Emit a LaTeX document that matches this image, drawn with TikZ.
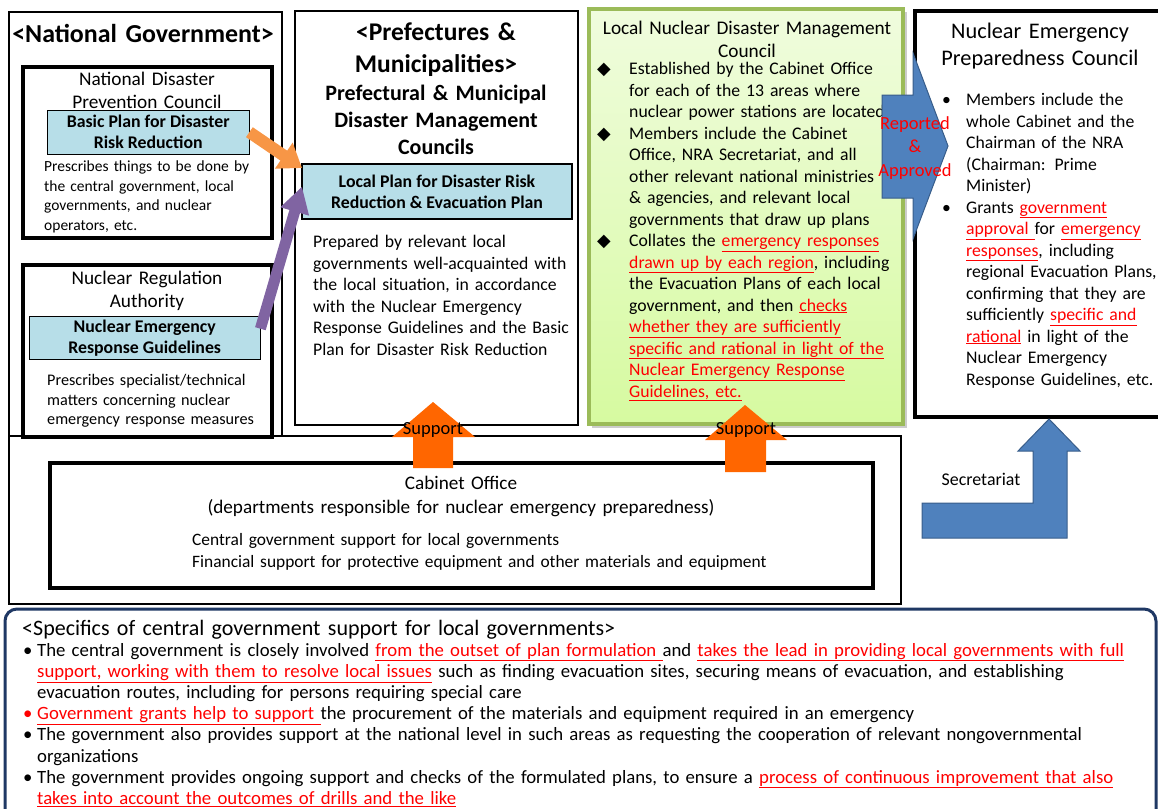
\documentclass[tikz,border=0pt]{standalone}
\usepackage{fontspec}
\setmainfont{Carlito}
\newfontfamily\symfont{DejaVu Sans}
\usetikzlibrary{arrows.meta}

\definecolor{planblue}{RGB}{183,222,232}
\definecolor{arrowblue}{RGB}{79,129,189}
\definecolor{arrowedge}{RGB}{56,93,138}
\definecolor{supportorange}{RGB}{255,102,0}
\definecolor{lightorange}{RGB}{247,150,70}
\definecolor{purplearrow}{RGB}{128,100,162}
\definecolor{councilgreen}{RGB}{155,187,89}
\definecolor{greentop}{RGB}{240,252,222}
\definecolor{greenbottom}{RGB}{214,250,160}
\definecolor{navy}{RGB}{31,56,100}

\newcommand{\redu}[1]{{\color{red}\underline{#1}}}
\newcommand{\dia}{\leavevmode\llap{\makebox[32pt][l]{\symfont ◆}}}
\newcommand{\bul}{\leavevmode\llap{\makebox[24pt][l]{•}}}
\newcommand{\sbul}{\leavevmode\llap{\makebox[14pt][l]{•}}}

\begin{document}
\begin{tikzpicture}[x=1pt,y=-1pt,
  txt/.style={inner sep=0pt,anchor=base west,align=left},
  ctr/.style={inner sep=0pt,anchor=base,align=center},
  fbody/.style={font=\fontsize{17.7}{21.5}\selectfont},
  fsmall/.style={font=\fontsize{16.2}{19.7}\selectfont},
  fmid/.style={font=\fontsize{19.3}{23}\selectfont},
  fbottom/.style={font=\fontsize{18.75}{21.2}\selectfont},
  planbox/.style={draw,fill=planblue,align=center,inner sep=0pt,anchor=north west,
    font=\bfseries\fontsize{17.8}{21}\selectfont},
  blockblue/.style={fill=arrowblue,draw=arrowedge,line width=1pt},
  label/.style={ctr,font=\fontsize{18.5}{23.5}\selectfont}]
\useasboundingbox (0,0) rectangle (1158,808);
\clip (0,0) rectangle (1158,808);

% national government
\draw[line width=1.2pt] (9,12) rectangle (282,436);
\node[ctr,text width=270pt,font=\bfseries\fontsize{25.9}{28}\selectfont] (natgov) at (143,43) {<National Government>};
\draw[line width=4pt] (23,67) rectangle (272,238);
\node[ctr,fmid,text width=240pt] (ndpc) at (147,85) {National Disaster\\Prevention Council};
\node[planbox,minimum width=202pt,minimum height=44pt] (basic) at (47,110) {Basic Plan for Disaster\\Risk Reduction};
\node[txt,font=\fontsize{15.5}{19.7}\selectfont,text width=240pt] (ndpctext) at (44,171.5) {Prescribes things to be done by\\the central government, local\\governments, and nuclear\\operators, etc.};
\draw[line width=4pt] (23,265) rectangle (272,437);
\node[ctr,fmid,text width=240pt] (nra) at (147,284) {Nuclear Regulation\\Authority};
\node[planbox,minimum width=231pt,minimum height=43pt] (nerg) at (29,316) {Nuclear Emergency\\Response Guidelines};
\node[txt,fsmall,text width=240pt] (nratext) at (47,385.5) {Prescribes specialist/technical\\matters concerning nuclear\\emergency response measures};

% prefectures
\draw[line width=1.5pt] (295,11) rectangle (578,425);
\node[ctr,text width=280pt,font=\bfseries\fontsize{25.5}{32}\selectfont] (pref) at (436,41) {<Prefectures \&\\Municipalities>};
\node[ctr,text width=280pt,font=\bfseries\fontsize{22}{27}\selectfont] (prefcouncil) at (436,100) {Prefectural \& Municipal\\Disaster Management\\Councils};
\node[planbox,line width=2pt,minimum width=270pt,minimum height=55pt] (local) at (301,163) {Local Plan for Disaster Risk\\Reduction \& Evacuation Plan};
\node[txt,fbody,text width=300pt] (localtext) at (313,247.5) {Prepared by relevant local\\governments well-acquainted with\\the local situation, in accordance\\with the Nuclear Emergency\\Response Guidelines and the Basic\\Plan for Disaster Risk Reduction};

% local council
\fill[black!20] (592,12) rectangle (907,428);
\shade[top color=greentop,bottom color=greenbottom] (589,9) rectangle (903,424);
\draw[councilgreen,line width=4pt] (589,9) rectangle (903,424);
\node[ctr,fmid,text width=300pt] (localcouncil) at (747,35) {Local Nuclear Disaster Management\\Council};
\node[txt,fbody,text width=400pt] (councilitems) at (629,74.5) {\dia Established by the Cabinet Office\\for each of the 13 areas where\\nuclear power stations are located\\\dia Members include the Cabinet\\Office, NRA Secretariat, and all\\other relevant national ministries\\\& agencies, and relevant local\\governments that draw up plans\\\dia Collates the \redu{emergency responses}\\\redu{drawn up by each region}, including\\the Evacuation Plans of each local\\government, and then \redu{checks}\\\redu{whether they are sufficiently}\\\redu{specific and rational in light of the}\\\redu{Nuclear Emergency Response}\\\redu{Guidelines, etc.}};

% preparedness council
\draw[line width=4pt] (915,11) rectangle (1175,417);
\node[ctr,text width=240pt,font=\fontsize{22.3}{27}\selectfont] (nepc) at (1040,39) {Nuclear Emergency\\Preparedness Council};
\node[txt,fbody,text width=300pt] (nepcitems) at (966,105.5) {\bul Members include the\\whole Cabinet and the\\Chairman of the NRA\\(Chairman: Prime\\Minister)\\\bul Grants \redu{government}\\\redu{approval }for \redu{emergency}\\\redu{responses}, including\\regional Evacuation Plans,\\confirming that they are\\sufficiently \redu{specific and}\\\redu{rational} in light of the\\Nuclear Emergency\\Response Guidelines, etc.};

% cabinet office
\draw[line width=1.5pt] (9,436) rectangle (901,604);
\draw[line width=3.5pt] (50,463) rectangle (873,588);
\node[ctr,font=\fontsize{19.2}{24}\selectfont,text width=700pt] (cabinet) at (461,489) {Cabinet Office\\(departments responsible for nuclear emergency preparedness)};
\node[txt,font=\fontsize{17.4}{22}\selectfont,text width=650pt] (cabsupport) at (192,545) {Central government support for local governments\\Financial support for protective equipment and other materials and equipment};

% arrows
\draw[lightorange,line width=12pt,-{Triangle[width=30pt,length=22pt]}] (basic.east) -- ([xshift=1pt,yshift=-5pt]local.north west);
\draw[purplearrow,line width=11pt,-{Triangle[width=28pt,length=26pt]}] ([yshift=9pt]nerg.east) -- ([xshift=1pt,yshift=5pt]local.west);
\fill[supportorange] (413,468) -- (413,437) -- (392,437) -- (433,402) -- (475,437) -- (453,437) -- (453,468) -- cycle;
\fill[supportorange] (725,472) -- (725,440) -- (705,440) -- (745,405) -- (787,440) -- (766,440) -- (766,472) -- cycle;
\node[label] (support1) at (433,434) {Support};
\node[label] (support2) at (746,434) {Support};
\draw[blockblue] (882,95) -- (913,95) -- (913,53) -- (948,146) -- (913,239) -- (913,198) -- (882,198) -- cycle;
\node[label,text=red,text width=100pt] (reported) at (915,129) {Reported\\\&\\Approved};
\draw[blockblue] (922,503) -- (1033,503) -- (1033,451) -- (1018,451) -- (1049,419) -- (1080,451) -- (1067,451) -- (1067,538) -- (922,538) -- cycle;
\node[label,font=\fontsize{17.9}{22}\selectfont] (secretariat) at (981,485) {Secretariat};

% specifics
\draw[navy,line width=3pt,rounded corners=12pt] (5,609) rectangle (1156,840);
\node[txt,font=\fontsize{22}{24}\selectfont,text width=1100pt] (specifics) at (22,635) {<Specifics of central government support for local governments>};
\node[txt,fbottom,text width=1200pt] (specificitems) at (37,656) {\sbul The central government is closely involved \redu{from the outset of plan formulation }and \redu{takes the lead in providing local governments with full}\\\redu{support, working with them to resolve local issues} such as finding evacuation sites, securing means of evacuation, and establishing\\evacuation routes, including for persons requiring special care\\{\color{red}\sbul}\redu{Government grants help to support }the procurement of the materials and equipment required in an emergency\\\sbul The government also provides support at the national level in such areas as requesting the cooperation of relevant nongovernmental\\organizations\\\sbul The government provides ongoing support and checks of the formulated plans, to ensure a \redu{process of continuous improvement that also}\\\redu{takes into account the outcomes of drills and the like}};
\end{tikzpicture}
\end{document}
